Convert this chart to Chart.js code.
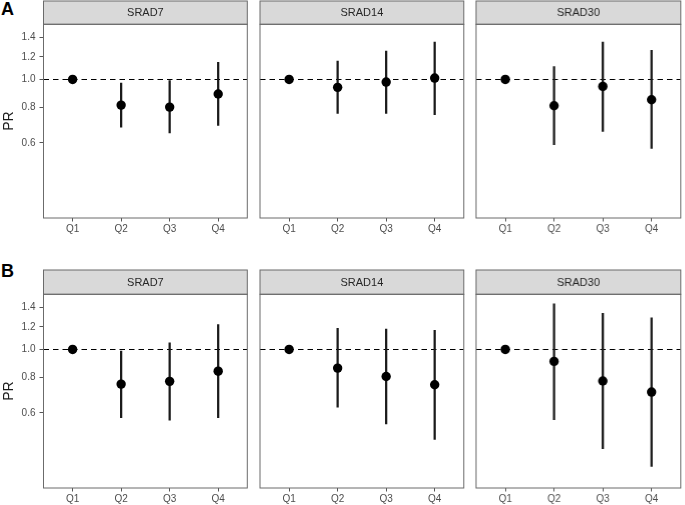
<!DOCTYPE html>
<html>
<head>
<meta charset="utf-8">
<script src="https://cdn.jsdelivr.net/npm/chart.js@4"></script>
<style>
  html, body { margin: 0; padding: 0; background: #fff; overflow: hidden; }
  body { width: 685px; height: 505px; position: relative; font-family: "Liberation Sans", Arial, sans-serif; }
  .box { position: absolute; }
  .tag { position: absolute; font-weight: bold; font-size: 18px; color: #000; line-height: 18px; }
</style>
</head>
<body>
<div class="tag" style="left:1px;top:0px;">A</div>
<div class="tag" style="left:1px;top:262px;">B</div>

<script>
const quartiles = ['Q1', 'Q2', 'Q3', 'Q4'];
const exposures = ['SRAD7', 'SRAD14', 'SRAD30'];
const yTicks = [0.6, 0.8, 1.0, 1.2, 1.4];
const yMin = 0.327;
const yMax = 1.56;

// panel A: one row per exposure (SRAD7, SRAD14, SRAD30)
const estA = [
  [1.00, 0.813, 0.800, 0.889],
  [1.00, 0.938, 0.979, 1.011],
  [1.00, 0.809, 0.945, 0.849]
];
const lowA = [
  [null, 0.681, 0.649, 0.690],
  [null, 0.760, 0.760, 0.752],
  [null, 0.591, 0.657, 0.573]
];
const highA = [
  [null, 0.971, 0.990, 1.147],
  [null, 1.160, 1.257, 1.352],
  [null, 1.110, 1.352, 1.264]
];

// panel B
const estB = [
  [1.00, 0.756, 0.773, 0.839],
  [1.00, 0.860, 0.804, 0.752],
  [1.00, 0.908, 0.775, 0.709]
];
const lowB = [
  [null, 0.577, 0.565, 0.577],
  [null, 0.628, 0.548, 0.484],
  [null, 0.567, 0.449, 0.389]
];
const highB = [
  [null, 0.986, 1.055, 1.223],
  [null, 1.185, 1.178, 1.166],
  [null, 1.446, 1.337, 1.291]
];

const colLeft = [43.5, 259.5, 476];
const panelW = 207.5;
const yAxisW = 42.5;
const xAxisH = 26;
const rows = [
  { stripTop: 1, panelTop: 24.3, panelBottom: 218.3, est: estA, low: lowA, high: highA },
  { stripTop: 270, panelTop: 294.3, panelBottom: 487.7, est: estB, low: lowB, high: highB }
];

const stripPlugin = {
  id: 'strip',
  afterDraw(chart, args, opts) {
    const { ctx, chartArea } = chart;
    const w = chartArea.right - chartArea.left;
    ctx.save();
    // strip header
    ctx.fillStyle = '#d9d9d9';
    ctx.fillRect(chartArea.left, opts.top, w, chartArea.top - opts.top);
    ctx.strokeStyle = '#6b6b6b';
    ctx.lineWidth = 1;
    ctx.strokeRect(chartArea.left, opts.top, w, chartArea.top - opts.top);
    ctx.fillStyle = '#262626';
    ctx.font = '11px "Liberation Sans", Arial, sans-serif';
    ctx.textAlign = 'center';
    ctx.textBaseline = 'middle';
    ctx.fillText(opts.label, chartArea.left + w / 2, (opts.top + chartArea.top) / 2 + 0.5);
    // panel border
    ctx.strokeRect(chartArea.left, chartArea.top, w, chartArea.bottom - chartArea.top);
    ctx.restore();
  }
};

function makePanel(r, c) {
  const row = rows[r];
  const hasY = c === 0;
  const padL = hasY ? 1 : 12;
  const padR = 1;
  const left = colLeft[c] - (hasY ? yAxisW : 0) - padL;
  const top = row.stripTop - 1;
  const width = (hasY ? yAxisW : 0) + panelW + padL + padR;
  const height = Math.round(row.panelBottom - top + xAxisH);

  const div = document.createElement('div');
  div.className = 'box';
  div.style.left = left + 'px';
  div.style.top = top + 'px';
  div.style.width = width + 'px';
  div.style.height = height + 'px';
  const canvas = document.createElement('canvas');
  div.appendChild(canvas);
  document.body.appendChild(div);

  const est = row.est[c], low = row.low[c], high = row.high[c];
  const points = quartiles.map((q, i) => ({ x: i + 1, y: est[i] }));
  const bars = [];
  quartiles.forEach((q, i) => {
    if (low[i] != null) bars.push({ x: i + 1, y: [low[i], high[i]] });
  });

  new Chart(canvas, {
    type: 'scatter',
    data: {
      datasets: [
        {
          type: 'scatter',
          data: points,
          pointRadius: 4.7,
          pointHoverRadius: 4.7,
          backgroundColor: '#000',
          borderWidth: 0
        },
        {
          type: 'bar',
          data: bars,
          barThickness: 1.6,
          backgroundColor: '#1a1a1a',
          borderWidth: 0
        },
        {
          type: 'line',
          data: [{ x: 0.4, y: 1 }, { x: 4.6, y: 1 }],
          borderColor: '#000',
          borderWidth: 1.1,
          borderDash: [5.5, 4],
          pointRadius: 0,
          fill: false
        }
      ]
    },
    options: {
      responsive: true,
      maintainAspectRatio: false,
      animation: false,
      events: [],
      layout: { padding: { top: row.panelTop - top, left: padL, right: padR, bottom: 0 } },
      plugins: {
        legend: { display: false },
        tooltip: { enabled: false },
        strip: { top: row.stripTop - top, label: exposures[c] }
      },
      scales: {
        x: {
          type: 'linear',
          min: 0.4,
          max: 4.6,
          offset: false,
          afterBuildTicks: s => { s.ticks = quartiles.map((q, i) => ({ value: i + 1 })); },
          afterFit: s => { s.height = xAxisH; s.paddingLeft = 0; s.paddingRight = 0; },
          ticks: {
            callback: v => quartiles[Math.round(v) - 1],
            color: '#4d4d4d',
            font: { family: '"Liberation Sans", Arial, sans-serif', size: 10 },
            padding: 2,
            autoSkip: false,
            maxRotation: 0
          },
          grid: { offset: false, drawOnChartArea: false, drawTicks: true, tickLength: 3.5, color: '#555', tickWidth: 1 },
          border: { display: false }
        },
        y: {
          type: 'logarithmic',
          display: hasY,
          min: yMin,
          max: yMax,
          bounds: 'data',
          afterBuildTicks: s => { s.ticks = yTicks.map(v => ({ value: v })); },
          afterFit: s => { s.width = hasY ? yAxisW : 0; },
          ticks: {
            callback: v => Number(v).toFixed(1),
            color: '#4d4d4d',
            font: { family: '"Liberation Sans", Arial, sans-serif', size: 10 },
            padding: 4,
            autoSkip: false
          },
          grid: { drawOnChartArea: false, drawTicks: true, tickLength: 4, color: '#555', tickWidth: 1 },
          border: { display: false },
          title: {
            display: true,
            text: 'PR',
            color: '#1a1a1a',
            font: { family: '"Liberation Sans", Arial, sans-serif', size: 14 },
            padding: { top: 0, bottom: 0 }
          }
        }
      }
    },
    plugins: [stripPlugin]
  });
}

for (let r = 0; r < rows.length; r++) {
  for (let c = 0; c < exposures.length; c++) makePanel(r, c);
}
</script>
</body>
</html>
